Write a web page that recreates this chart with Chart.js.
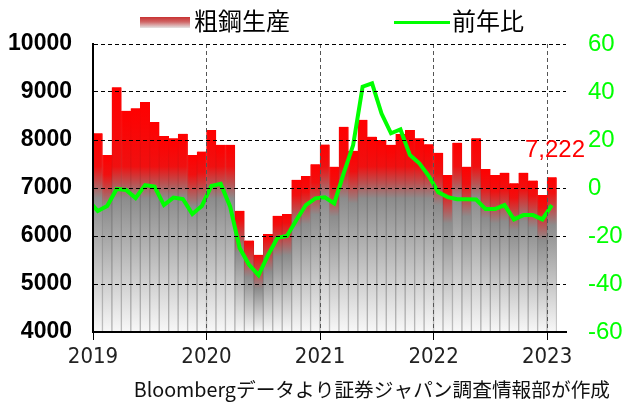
<!DOCTYPE html>
<html>
<head>
<meta charset="utf-8">
<script src="https://cdn.jsdelivr.net/npm/chart.js@4/dist/chart.umd.min.js"></script>
<style>
    body { margin: 0; background: #fff; }
</style>
</head>
<body>
<canvas id="steelChart" width="629" height="405"></canvas>
<script>
"use strict";

// year labels on the x axis (one every 12 months, starting Jan 2019)
const years = ["2019", "2020", "2021", "2022", "2023"];

// crude steel production, thousand tonnes, Jan 2019 .. Jan 2023
const production = [
    8140, 7690, 9100, 8610, 8660, 8790, 8375, 8085, 8035, 8130, 7690, 7760,
    8210, 7900, 7900, 6525, 5905, 5610, 6040, 6420, 6460, 7170, 7250, 7495,
    7905, 7445, 8275, 7775, 8420, 8070, 8000, 7900, 8125, 8210, 8035, 7910,
    7735, 7270, 7945, 7445, 8035, 7395, 7270, 7320, 7100, 7320, 7155, 6855,
    7222,
];

// year-on-year change, %, Dec 2018 .. Jan 2023
const yoyChange = [
    -5.0,
    -9.6, -7.5, -0.4, -0.8, -4.2, 1.2, 0.6, -7.1, -4.0, -4.6, -10.8, -7.5,
    0.8, 1.7, -7.8, -25.0, -32.0, -36.3, -28.0, -20.7, -20.0, -13.3, -7.1, -4.3,
    -3.9, -6.4, 6.1, 17.9, 42.2, 43.6, 31.0, 22.8, 24.4, 13.7, 10.3, 5.0,
    -1.8, -3.8, -4.7, -4.7, -4.8, -8.8, -8.8, -7.1, -13.1, -11.3, -11.3, -13.1,
    -7.1,
];

const legendNames = ["粗鋼生産", "前年比"];
const sourceNote = "Bloombergデータより証券ジャパン調査情報部が作成";

(function() {
    // each bar: red at the top, grey in the middle, almost white at the bottom
    function barPaint(context, forBorder) {
        const chart = context.chart;
        if (!chart.chartArea || context.type !== "data") {
            return forBorder ? "#999" : "#f00";
        }
        const yScale = chart.scales.y;
        const top = yScale.getPixelForValue(context.parsed.y);
        const bottom = yScale.getPixelForValue(yScale.min);
        const h = bottom - top;
        if (h <= 0) return "#f00";
        const mid = Math.max(top + 0.18 * h, yScale.getPixelForValue(7200));
        let f1 = Math.min(Math.max((mid - 12 - top) / h, 0), 0.9);
        let f2 = Math.min(Math.max((mid + 20 - top) / h, f1 + 0.02), 0.98);
        const g = chart.ctx.createLinearGradient(0, top, 0, bottom);
        if (forBorder) {
            g.addColorStop(0, "#ff0000");
            g.addColorStop(f1, "#e01010");
            g.addColorStop(f2, "#7a7a7a");
            g.addColorStop(1, "#b8b8b8");
        } else {
            g.addColorStop(0, "#ff0000");
            g.addColorStop(f1, "#f01010");
            g.addColorStop(f2, "#8c8c8c");
            g.addColorStop(1, "#f8f8f8");
        }
        return g;
    }

    const extraText = {
        id: "extraText",
        afterDraw(chart) {
            const ctx = chart.ctx;
            ctx.save();

            // legend
            let g = ctx.createLinearGradient(0, 17, 0, 28);
            g.addColorStop(0, "#c83030");
            g.addColorStop(0.45, "#d06868");
            g.addColorStop(1, "#e4e4e4");
            ctx.fillStyle = g;
            ctx.fillRect(140, 17, 50, 11);
            ctx.strokeStyle = "#00ff00";
            ctx.lineWidth = 3;
            ctx.beginPath();
            ctx.moveTo(394, 22.5);
            ctx.lineTo(450, 22.5);
            ctx.stroke();

            ctx.font = '24px "Noto Sans CJK JP"';
            ctx.fillStyle = "#000";
            ctx.textAlign = "left";
            ctx.textBaseline = "middle";
            ctx.fillText(legendNames[0], 194, 21);
            ctx.fillText(legendNames[1], 452, 21);

            // last value label
            const last = production[production.length - 1];
            const xs = chart.scales.x;
            const ys = chart.scales.y;
            ctx.font = '24px "Liberation Sans"';
            ctx.fillStyle = "#ff0000";
            ctx.textAlign = "right";
            ctx.textBaseline = "alphabetic";
            ctx.fillText(last.toLocaleString("en-US"), xs.getPixelForValue(xs.max) + 19, ys.getPixelForValue(last) - 20);

            // source note
            ctx.font = '19.7px "Noto Sans CJK JP"';
            ctx.fillStyle = "#111";
            ctx.textBaseline = "middle";
            ctx.fillText(sourceNote, 610, 390);
            ctx.restore();
        },
    };

    function Start() {
        const barPoints = production.map((v, i) => ({ x: i + 0.5, y: v }));
        const linePoints = yoyChange.map((v, i) => ({ x: i - 0.5, y: v }));
        const ctx = document.getElementById("steelChart").getContext("2d");

        new Chart(ctx, {
            type: "bar",
            data: {
                datasets: [{
                    type: "line",
                    label: legendNames[1],
                    data: linePoints,
                    yAxisID: "y1",
                    borderColor: "#00ff00",
                    borderWidth: 4,
                    pointRadius: 0,
                    tension: 0,
                    order: 1,
                }, {
                    type: "bar",
                    label: legendNames[0],
                    data: barPoints,
                    yAxisID: "y",
                    backgroundColor: c => barPaint(c, false),
                    borderColor: c => barPaint(c, true),
                    borderWidth: { left: 1, right: 1, top: 0, bottom: 0 },
                    borderSkipped: false,
                    barPercentage: 1,
                    categoryPercentage: 1,
                    order: 2,
                }],
            },
            options: {
                responsive: false,
                animation: false,
                layout: { padding: { top: 44 } },
                plugins: {
                    legend: { display: false },
                    tooltip: { enabled: false },
                },
                scales: {
                    x: {
                        type: "linear",
                        min: 0,
                        max: 50,
                        offset: false,
                        grid: { offset: false, color: "#555", lineWidth: 1, tickLength: 8, tickColor: "#000", z: 1 },
                        border: { color: "#000", width: 2, dash: [4, 3], z: 1 },
                        ticks: {
                            stepSize: 12,
                            includeBounds: false,
                            maxRotation: 0,
                            padding: 4,
                            color: "#222",
                            font: { family: '"Liberation Sans Narrow", "DejaVu Sans Condensed", sans-serif', size: 22 },
                            callback: v => years[v / 12],
                        },
                        afterFit: s => { s.height = 73; },
                    },
                    y: {
                        position: "left",
                        min: 4000,
                        max: 10000,
                        grid: { color: "#000", lineWidth: 1, drawTicks: false, z: 1 },
                        border: { color: "#000", width: 2, dash: [4, 3], z: 1 },
                        ticks: {
                            stepSize: 1000,
                            padding: 21,
                            color: "#000",
                            font: { family: '"Liberation Sans"', size: 23, weight: "bold" },
                            callback: v => String(v),
                        },
                        afterFit: s => { s.width = 93; },
                    },
                    y1: {
                        position: "right",
                        min: -60,
                        max: 60,
                        grid: { drawOnChartArea: false, drawTicks: false },
                        border: { display: false },
                        ticks: {
                            stepSize: 20,
                            padding: 22,
                            color: "#00ff00",
                            font: { family: '"Liberation Sans"', size: 24 },
                            callback: v => String(v),
                        },
                        afterFit: s => { s.width = 63; },
                    },
                },
            },
            plugins: [extraText],
        });
    }

    window.addEventListener("load", Start);
})();
</script>
</body>
</html>
